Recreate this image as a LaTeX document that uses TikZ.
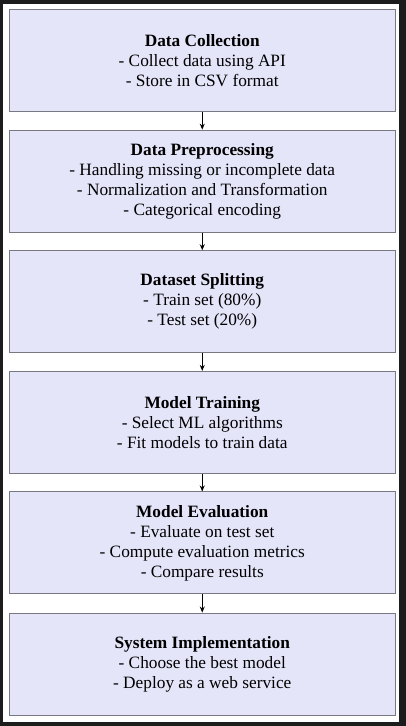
\documentclass[tikz,border=0pt]{standalone}
\usepackage{fontspec}
\setmainfont{Liberation Serif}
\usetikzlibrary{arrows.meta}
\definecolor{boxfill}{RGB}{229,229,250}
\definecolor{boxline}{RGB}{120,120,130}
\definecolor{frame}{RGB}{28,28,28}
\tikzset{
  stagebox/.style={draw=boxline, line width=0.9pt, fill=boxfill, minimum width=385.5pt, minimum height=102pt,
    inner sep=0pt, align=center, font=\fontsize{17.3}{20}\selectfont},
  flow/.style={draw=black, line width=0.9pt, -{Stealth[length=6pt,width=5pt]}}
}
\begin{document}
\begin{tikzpicture}[x=1pt,y=1pt]
\fill[frame] (0,0) rectangle (406,-726);
\fill[white] (3,-4) rectangle (399,-722);
\useasboundingbox (0,0) rectangle (406,-726);
\node[stagebox] (n1) at (202.25,-60.5) {\textbf{Data Collection}\\- Collect data using API\\- Store in CSV format};
\node[stagebox] (n2) at (202.25,-181.1) {\textbf{Data Preprocessing}\\- Handling missing or incomplete data\\- Normalization and Transformation\\- Categorical encoding};
\node[stagebox] (n3) at (202.25,-301.7) {\textbf{Dataset Splitting}\\- Train set (80\%)\\- Test set (20\%)};
\node[stagebox] (n4) at (202.25,-422.3) {\textbf{Model Training}\\- Select ML algorithms\\- Fit models to train data};
\node[stagebox] (n5) at (202.25,-542.9) {\textbf{Model Evaluation}\\- Evaluate on test set\\- Compute evaluation metrics\\- Compare results};
\node[stagebox] (n6) at (202.25,-664) {\textbf{System Implementation}\\- Choose the best model\\- Deploy as a web service};
\draw[flow] (n1) -- (n2);
\draw[flow] (n2) -- (n3);
\draw[flow] (n3) -- (n4);
\draw[flow] (n4) -- (n5);
\draw[flow] (n5) -- (n6);
\end{tikzpicture}
\end{document}
